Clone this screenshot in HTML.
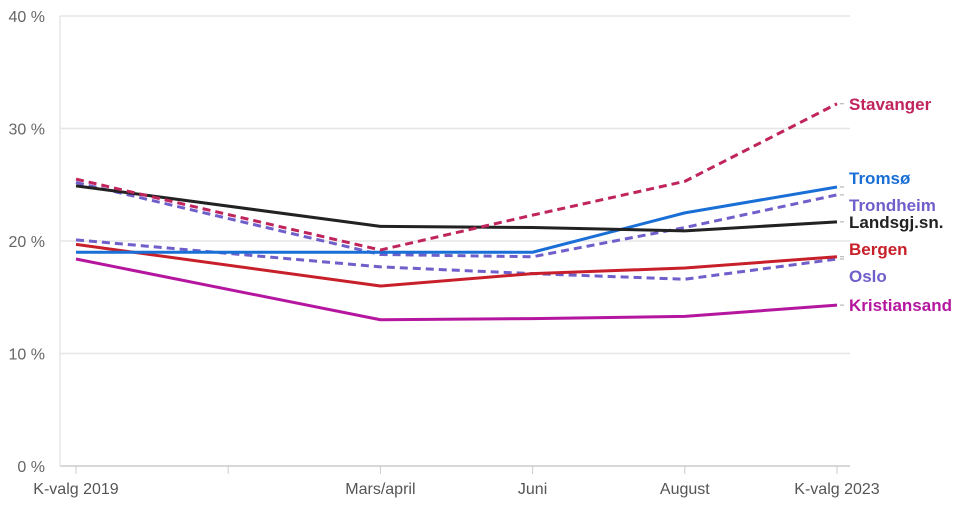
<!DOCTYPE html>
<html><head><meta charset="utf-8"><style>
body{margin:0;background:#fff;font-family:"Liberation Sans",sans-serif}
svg text{font-family:"Liberation Sans",sans-serif}
</style></head><body>
<svg id="chart" width="960" height="520" xmlns="http://www.w3.org/2000/svg"></svg>
<script>
const categories=["K-valg 2019","","Mars/april","Juni","August","K-valg 2023"];
const yTicks=[0,10,20,30,40];
const idx=[0,2,3,4,5];
const stavanger=[25.5,19.2,22.3,25.3,32.2];
const landsgj=[24.9,21.3,21.2,20.9,21.7];
const tromso=[19.0,19.0,19.0,22.5,24.8];
const trondheim=[25.2,18.8,18.6,21.2,24.1];
const oslo=[20.1,17.7,17.1,16.6,18.4];
const bergen=[19.7,16.0,17.1,17.6,18.6];
const kristiansand=[18.4,13.0,13.1,13.3,14.3];
const series=[
 {name:"Oslo",v:oslo,c:"#6f5fcb",d:true,ly:276},
 {name:"Trondheim",v:trondheim,c:"#6f5fcb",d:true,ly:205},
 {name:"Bergen",v:bergen,c:"#c8202a",d:false,ly:249},
 {name:"Kristiansand",v:kristiansand,c:"#b5169f",d:false,ly:305},
 {name:"Tromsø",v:tromso,c:"#1a6fd6",d:false,ly:178},
 {name:"Landsgj.sn.",v:landsgj,c:"#222222",d:false,ly:222},
 {name:"Stavanger",v:stavanger,c:"#c0245c",d:true,ly:104}
];
const svg=document.getElementById('chart');const NS="http://www.w3.org/2000/svg";
const x=i=>76+i*152.2;const y=v=>466-v*11.25;
function mk(t,a,p){const e=document.createElementNS(NS,t);for(const k in a)e.setAttribute(k,a[k]);(p||svg).appendChild(e);return e;}
yTicks.forEach(t=>{
 const g=mk('line',{x1:60,x2:850,y1:y(t),y2:y(t),stroke:t===0?'#ccc':'#e6e6e6','stroke-width':1.5});
 
 
 const l=mk('text',{x:45,y:y(t)+6,'text-anchor':'end','font-size':16,fill:'#666'});l.textContent=t+' %';
 
 
});
const ax=mk('line',{x1:60,x2:60,y1:16,y2:466,stroke:'#e6e6e6','stroke-width':1.5});


categories.forEach((c,i)=>{
 const t=mk('line',{x1:x(i),x2:x(i),y1:466,y2:474,stroke:'#ccc'});
 
 
 if(c){const l=mk('text',{x:x(i),y:494,'text-anchor':'middle','font-size':16,fill:'#555'});l.textContent=c;
 
 }
});
series.forEach(s=>{
 const pts=s.v.map((v,k)=>x(idx[k])+','+y(v)).join(' ');
 const a={points:pts,fill:'none',stroke:s.c,'stroke-width':3,'stroke-linejoin':'round'};
 if(s.d)a['stroke-dasharray']='8 5';
 const p=mk('polyline',a);
 
 
 const ey=y(s.v[s.v.length-1]);
 const cn=mk('line',{x1:x(5)+3,x2:844,y1:ey,y2:ey,stroke:'#aaa'});
 
 
 const l=mk('text',{x:849,y:s.ly+6,'font-size':17,'font-weight':'bold',fill:s.c});l.textContent=s.name;
 
 
});
</script>
</body></html>
